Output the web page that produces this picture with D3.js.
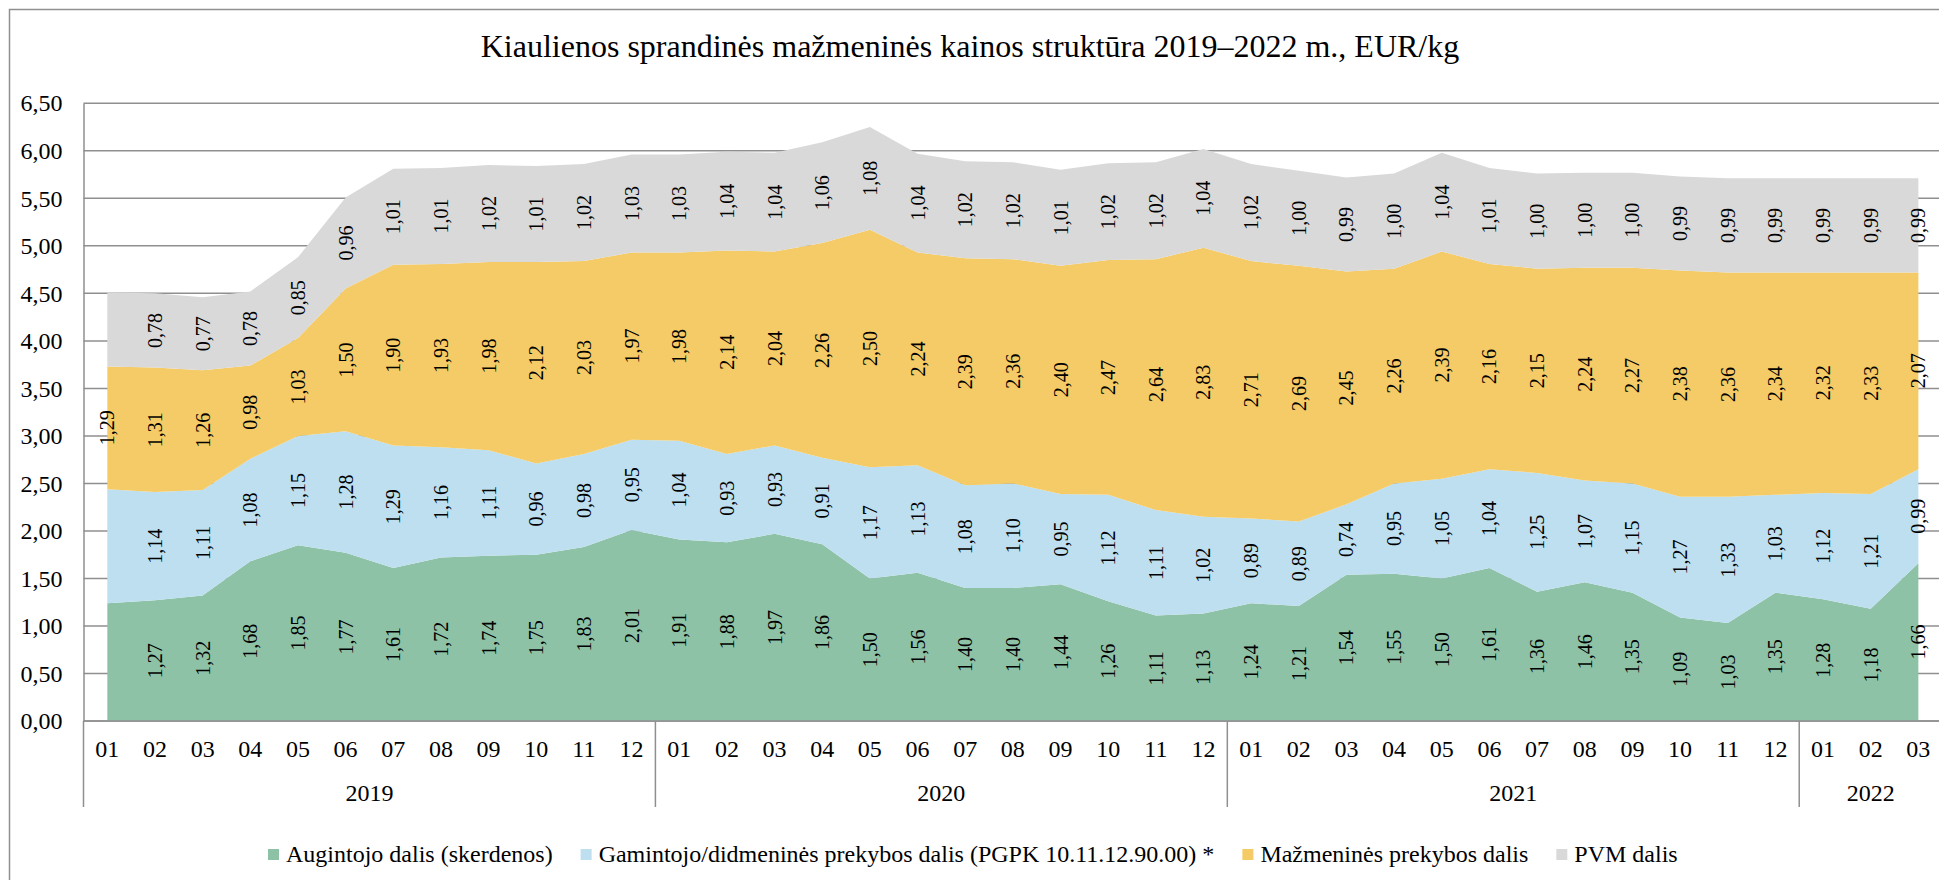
<!DOCTYPE html>
<html>
<head>
<meta charset="utf-8">
<script src="https://cdn.jsdelivr.net/npm/d3@7"></script>
<style>
  body { margin: 0; background: #fff; }
  svg text { font-family: "Liberation Serif", "Times New Roman", serif; fill: #000; }
</style>
</head>
<body>
<svg id="chart" width="1939" height="880"></svg>
<script>
// data
var months = ["01","02","03","04","05","06","07","08","09","10","11","12",
              "01","02","03","04","05","06","07","08","09","10","11","12",
              "01","02","03","04","05","06","07","08","09","10","11","12",
              "01","02","03"];
var years = ["2019","2020","2021","2022"];
var yearCounts = [12, 12, 12, 3];

var augintojo = [1.24,1.27,1.32,1.68,1.85,1.77,1.61,1.72,1.74,1.75,1.83,2.01,
                 1.91,1.88,1.97,1.86,1.50,1.56,1.40,1.40,1.44,1.26,1.11,1.13,
                 1.24,1.21,1.54,1.55,1.50,1.61,1.36,1.46,1.35,1.09,1.03,1.35,
                 1.28,1.18,1.66];
var gamintojo = [1.20,1.14,1.11,1.08,1.15,1.28,1.29,1.16,1.11,0.96,0.98,0.95,
                 1.04,0.93,0.93,0.91,1.17,1.13,1.08,1.10,0.95,1.12,1.11,1.02,
                 0.89,0.89,0.74,0.95,1.05,1.04,1.25,1.07,1.15,1.27,1.33,1.03,
                 1.12,1.21,0.99];
var mazmenine = [1.29,1.31,1.26,0.98,1.03,1.50,1.90,1.93,1.98,2.12,2.03,1.97,
                 1.98,2.14,2.04,2.26,2.50,2.24,2.39,2.36,2.40,2.47,2.64,2.83,
                 2.71,2.69,2.45,2.26,2.39,2.16,2.15,2.24,2.27,2.38,2.36,2.34,
                 2.32,2.33,2.07];
var pvm = [0.78,0.78,0.77,0.78,0.85,0.96,1.01,1.01,1.02,1.01,1.02,1.03,
           1.03,1.04,1.04,1.06,1.08,1.04,1.02,1.02,1.01,1.02,1.02,1.04,
           1.02,1.00,0.99,1.00,1.04,1.01,1.00,1.00,1.00,0.99,0.99,0.99,
           0.99,0.99,0.99];

var seriesNames = ["Augintojo dalis (skerdenos)",
                   "Gamintojo/didmeninės prekybos dalis (PGPK 10.11.12.90.00) *",
                   "Mažmeninės prekybos dalis",
                   "PVM dalis"];
var colors = ["#8EC2A6", "#BDDFF0", "#F4CB66", "#D9D9D9"];
var yTicks = [0, 0.5, 1, 1.5, 2, 2.5, 3, 3.5, 4, 4.5, 5, 5.5, 6, 6.5];
// first month has only the retail share labelled
var hiddenLabels = [[0,0],[1,0],[3,0]];

buildChart();

function buildChart(){
  var svg = d3.select("#chart");
  var fmt = function(v) { return d3.format(".2f")(v).replace(".", ","); };
  var grid = "#8f8f8f";

  var pLeft = 83.5, pRight = 1942.2, pTop = 103.3, pBottom = 721;

  var x = d3.scalePoint()
      .domain(d3.range(months.length))
      .range([pLeft, pRight])
      .padding(0.5);
  var step = x.step();
  var y = d3.scaleLinear()
      .domain([0, 6.5])
      .range([pBottom, pTop]);

  // outer frame
  svg.append("rect")
      .attr("x", 9.5).attr("y", 9.5)
      .attr("width", 1960).attr("height", 900)
      .attr("fill", "none")
      .attr("stroke", grid)
      .attr("stroke-width", 1.5);

  // title
  svg.append("text")
      .attr("x", 970).attr("y", 57)
      .attr("text-anchor", "middle")
      .style("font-size", "32px")
      .text("Kiaulienos sprandinės mažmeninės kainos struktūra 2019–2022 m., EUR/kg");

  // gridlines
  svg.append("g").selectAll("line")
      .data(yTicks)
      .enter().append("line")
      .attr("x1", pLeft).attr("x2", pRight)
      .attr("y1", function(d) { return y(d); })
      .attr("y2", function(d) { return y(d); })
      .attr("stroke", grid)
      .attr("stroke-width", 1.5);

  // y axis
  var yAxis = svg.append("g")
      .attr("transform", "translate(" + pLeft + ",0)")
      .call(d3.axisLeft(y).tickValues(yTicks).tickFormat(fmt).tickSize(0).tickPadding(21));
  yAxis.select(".domain").attr("stroke", grid).attr("stroke-width", 1.5);
  yAxis.selectAll("text").style("font-size", "24px").attr("font-family", null);
  yAxis.attr("font-family", null);

  // stacked areas
  var rows = months.map(function(m, i) {
    return {i: i, s0: augintojo[i], s1: gamintojo[i], s2: mazmenine[i], s3: pvm[i]};
  });
  var layers = d3.stack().keys(["s0","s1","s2","s3"])(rows);

  var area = d3.area()
      .x(function(d) { return x(d.data.i); })
      .y0(function(d) { return y(d[0]); })
      .y1(function(d) { return y(d[1]); });

  svg.append("g").selectAll("path")
      .data(layers)
      .enter().append("path")
      .attr("d", area)
      .attr("fill", function(d, k) { return colors[k]; });

  // x axis: months, then years
  svg.append("line")
      .attr("x1", pLeft).attr("x2", pRight)
      .attr("y1", pBottom).attr("y2", pBottom)
      .attr("stroke", grid).attr("stroke-width", 1.5);

  svg.append("g").selectAll("text")
      .data(months)
      .enter().append("text")
      .attr("x", function(d, i) { return x(i); })
      .attr("y", 749)
      .attr("text-anchor", "middle")
      .attr("dominant-baseline", "central")
      .style("font-size", "24px")
      .text(function(d) { return d; });

  var start = 0, seps = [pLeft];
  years.forEach(function(yr, k) {
    var n = yearCounts[k];
    var mid = (x(start) + x(start + n - 1)) / 2;
    svg.append("text")
        .attr("x", mid).attr("y", 793)
        .attr("text-anchor", "middle")
        .attr("dominant-baseline", "central")
        .style("font-size", "24px")
        .text(yr);
    start += n;
    if (start < months.length) seps.push(x(start) - step / 2);
  });
  svg.append("g").selectAll("line")
      .data(seps)
      .enter().append("line")
      .attr("x1", function(d) { return d; })
      .attr("x2", function(d) { return d; })
      .attr("y1", pBottom).attr("y2", 807)
      .attr("stroke", grid).attr("stroke-width", 1.5);

  // value labels, rotated
  var labels = svg.append("g");
  layers.forEach(function(layer, k) {
    layer.forEach(function(d, i) {
      var skip = hiddenLabels.some(function(h) { return h[0] === k && h[1] === i; });
      if (skip) return;
      var cx = x(i), cy = y((d[0] + d[1]) / 2);
      labels.append("text")
          .attr("transform", "translate(" + cx + "," + cy + ") rotate(-90)")
          .attr("text-anchor", "middle")
          .attr("dominant-baseline", "central")
          .style("font-size", "20px")
          .text(fmt(d[1] - d[0]));
    });
  });

  // legend
  var lx = 268;
  var legend = svg.append("g");
  seriesNames.forEach(function(name, k) {
    legend.append("rect")
        .attr("x", lx).attr("y", 849)
        .attr("width", 11).attr("height", 11)
        .attr("fill", colors[k]);
    var t = legend.append("text")
        .attr("x", lx + 18).attr("y", 862)
        .style("font-size", "24px")
        .text(name);
    lx += 18 + t.node().getComputedTextLength() + 28;
  });
}
</script>
</body>
</html>
